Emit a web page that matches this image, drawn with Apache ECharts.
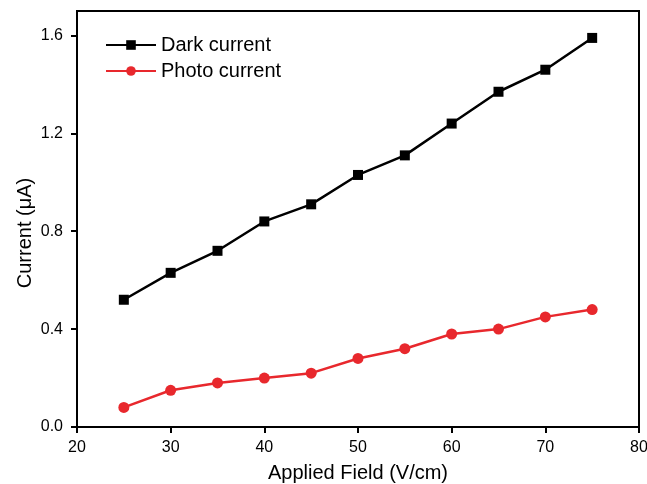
<!DOCTYPE html>
<html><head><meta charset="utf-8">
<script src="https://cdn.jsdelivr.net/npm/echarts@6/dist/echarts.min.js"></script>
<style>html,body{margin:0;padding:0;background:#fff}#c{width:647px;height:484px}</style>
</head><body><div id="c"></div>
<script>
var fields = [25, 30, 35, 40, 45, 50, 55, 60, 65, 70, 75];
var darkCurrent = [0.52, 0.63, 0.72, 0.84, 0.91, 1.03, 1.11, 1.24, 1.37, 1.46, 1.59];
var photoCurrent = [0.08, 0.15, 0.18, 0.20, 0.22, 0.28, 0.32, 0.38, 0.40, 0.45, 0.48];
var seriesNames = ['Dark current', 'Photo current'];

function pairs(xs, ys) { return xs.map(function (x, i) { return [x, ys[i]]; }); }

var chart = echarts.init(document.getElementById('c'));
var font = 'Liberation Sans, Arial, sans-serif';
chart.setOption({
  animation: false,
  backgroundColor: '#fff',
  grid: { left: 77, right: 8, top: 11, bottom: 57, outerBoundsMode: 'none', containLabel: false,
    show: true, borderColor: '#000', borderWidth: 2, backgroundColor: 'transparent' },
  legend: {
    left: 100, top: 30, orient: 'vertical', itemGap: 6, itemWidth: 50, itemHeight: 12,
    textStyle: { fontFamily: font, fontSize: 20, color: '#000' },
    data: [
      { name: seriesNames[0], itemStyle: { color: '#000' } },
      { name: seriesNames[1], itemStyle: { color: '#e8282d' } }
    ]
  },
  xAxis: {
    type: 'value', min: 20, max: 80, interval: 10,
    name: 'Applied Field (V/cm)', nameLocation: 'middle', nameGap: 36, nameMoveOverlap: false,
    nameTextStyle: { fontFamily: font, fontSize: 20, color: '#000' },
    axisLine: { lineStyle: { color: '#000', width: 2 } },
    axisTick: { show: true, inside: false, length: 6, lineStyle: { color: '#000', width: 2 } },
    axisLabel: { fontFamily: font, fontSize: 16, color: '#000', margin: 13 },
    splitLine: { show: false }
  },
  yAxis: {
    type: 'value', min: 0, max: 1.7, interval: 0.4,
    name: 'Current (\u03bcA)', nameLocation: 'middle', nameGap: 42, nameMoveOverlap: false,
    nameTextStyle: { fontFamily: font, fontSize: 20, color: '#000', padding: [0, 28, 0, 0] },
    axisLine: { show: true, lineStyle: { color: '#000', width: 2 } },
    axisTick: { show: true, inside: false, length: 6, lineStyle: { color: '#000', width: 2 } },
    axisLabel: { fontFamily: font, fontSize: 16, color: '#000', margin: 14, showMaxLabel: false,
      formatter: function (v) { return v > 1.65 ? '' : v.toFixed(1); } },
    splitLine: { show: false }
  },
  series: [
    { name: seriesNames[0], type: 'line', data: pairs(fields, darkCurrent),
      symbol: 'rect', symbolSize: 10, color: '#000',
      lineStyle: { color: '#000', width: 2.5 }, itemStyle: { color: '#000' } },
    { name: seriesNames[1], type: 'line', data: pairs(fields, photoCurrent),
      symbol: 'circle', symbolSize: 11, color: '#e8282d',
      lineStyle: { color: '#e8282d', width: 2.5 }, itemStyle: { color: '#e8282d' } }
  ]
});
</script></body></html>
